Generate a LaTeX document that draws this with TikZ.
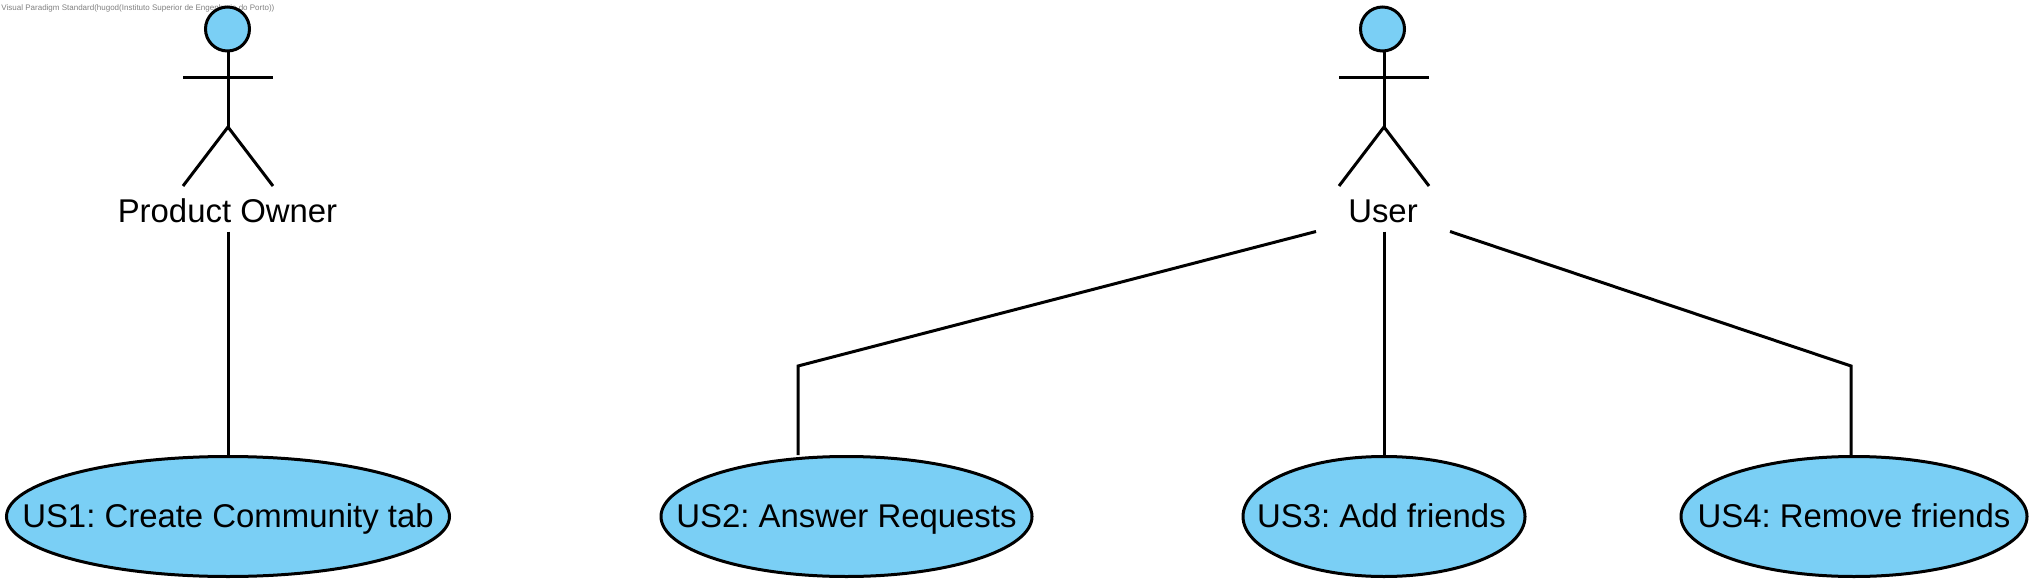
\documentclass[tikz,border=0pt]{standalone}
\usepackage{fontspec}
\setmainfont{Liberation Sans}
\usetikzlibrary{positioning}
\usetikzlibrary{shapes.geometric}
\definecolor{ucblue}{RGB}{122,207,245}
\newcommand{\uctext}[1]{\makebox[0pt]{#1}}
\tikzset{
  usecase/.style = {ellipse, draw, fill = ucblue, inner sep = 0pt, text height = 13.5pt, text depth = 3pt, minimum height = 60pt, font = \frenchspacing\fontsize{16.45}{20}\selectfont},
  head/.style = {circle, draw, fill = ucblue, inner sep = 0pt, minimum size = 22pt},
  actorlabel/.style = {inner sep = 0pt, minimum height = 19pt, font = \frenchspacing\fontsize{16.45}{20}\selectfont}
}

\begin{document}
\begin{tikzpicture}[x = 0.5pt, y = -0.5pt, line width = 1.5pt]
    \useasboundingbox (0, 0) rectangle (2037, 588);
    \node [anchor = north west, inner sep = 0pt, text = black!50, font = \frenchspacing\fontsize{4}{5}\selectfont] (mark) at (0, 3) {Visual Paradigm Standard(hugod(Instituto Superior de Engenharia do Porto))};
    % actors
    \node [head] (ownerhead) at (227.5, 29) {};
    \node [head] (userhead) at (1382.5, 29) {};
    \node [actorlabel, minimum width = 131 * 0.5pt] (user) at (1383, 211) {User};
    \node [actorlabel, minimum width = 222 * 0.5pt] (owner) at (227.5, 211) {Product Owner};
    \foreach \who/\mid in {owner/228, user/1384} {
      \coordinate (\who hip) at (\mid, 127);
      \coordinate (\who shoulder) at (\mid, 78);
      \draw (\who head.south -| \who hip) -- (\who hip);
      \draw (\who shoulder) ++(-45, 0) coordinate (\who arm) -- ++(90, 0);
      \draw (\who hip) ++(-45, 59) coordinate (\who foot) -- (\who hip) -- ++(45, 59);
    }
    % use cases
    \node [usecase, minimum width = 221.5pt] (us1) at (228, 516.5) {\uctext{US1: Create Community tab}};
    \node [usecase, minimum width = 185.5pt] (us2) at (846.5, 516.5) {\uctext{US2: Answer Requests}};
    \node [usecase, minimum width = 141pt] (us3) at (1384, 516.5) {\uctext{US3: Add friends\hspace{2.6pt}}};
    \node [usecase, minimum width = 173pt] (us4) at (1854, 516.5) {\uctext{US4: Remove friends}};
    % paths
    \coordinate (bend2) at (798, 366);
    \coordinate (bend4) at (1851, 366);
    \draw (owner.south -| ownerhip) -- (us1.north);
    \draw (user.south -| userhip) -- (us3.north);
    \draw (user.south west) -- (bend2) -- (bend2 |- us2.north);
    \draw (user.south east) -- (bend4) -- (bend4 |- us4.north);
\end{tikzpicture}
\end{document}
